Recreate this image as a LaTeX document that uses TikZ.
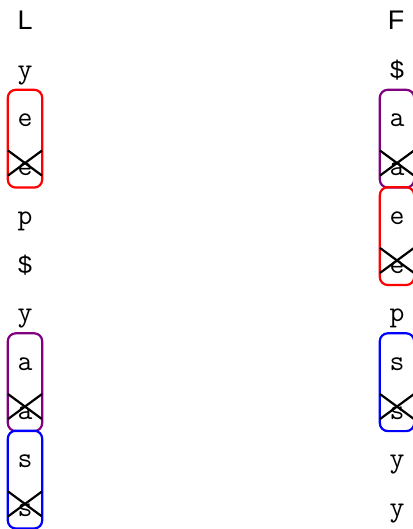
\documentclass[tikz,border=0pt]{standalone}
\usepackage{fontspec}
\setsansfont{Liberation Sans}
\usetikzlibrary{calc}

\definecolor{boxpurple}{RGB}{128,0,128}

\tikzset{
  cell/.style={minimum width=34bp, minimum height=48.7bp, inner sep=0pt,
    text height=37bp, text depth=11.7bp},
  monotok/.style={font=\fontsize{29}{29}\selectfont\ttfamily},
  sanstok/.style={font=\fontsize{25}{25}\selectfont\sffamily},
  head/.style={anchor=base, inner sep=0pt, font=\fontsize{27}{27}\selectfont\sffamily},
  pairbox/.style={line width=2.2bp, rounded corners=8bp},
  cross/.style={line width=2.2bp, black},
}

\begin{document}
\begin{tikzpicture}[x=1bp, y=1bp]
    \useasboundingbox (0,0) rectangle (412,-529);
    \node[head] (lhead) at (25,-30) {L};
    \node[head] (rhead) at (396,-30) {F};
    % left column
    \coordinate (s) at (25,-65.65);
    \foreach \token/\fnt [count=\i] in {y/monotok,e/monotok,e/monotok,p/monotok,\$/sanstok,
        y/monotok,a/monotok,a/monotok,s/monotok,s/monotok}{
      \node[cell, \fnt] (l\i) at (s) {\token};
      \coordinate (s) at ($(s) + (0,-48.7)$);
    }
    % right column
    \coordinate (s) at (397,-65.65);
    \foreach \token/\fnt [count=\i] in {\$/sanstok,a/monotok,a/monotok,e/monotok,e/monotok,
        p/monotok,s/monotok,s/monotok,y/monotok,y/monotok}{
      \node[cell, \fnt] (r\i) at (s) {\token};
      \coordinate (s) at ($(s) + (0,-48.7)$);
    }
    \draw[pairbox, red] (l2.north west) rectangle (l3.south east);
    \draw[pairbox, boxpurple] (l7.north west) rectangle (l8.south east);
    \draw[pairbox, blue] (l9.north west) rectangle (l10.south east);
    \draw[pairbox, boxpurple] (r2.north west) rectangle (r3.south east);
    \draw[pairbox, red] (r4.north west) rectangle (r5.south east);
    \draw[pairbox, blue] (r7.north west) rectangle (r8.south east);
    \foreach \c in {l3,l8,l10,r3,r5,r8}{
      \draw[cross] ($(\c)+(-17,12.5)$) -- ($(\c)+(17,-12.5)$);
      \draw[cross] ($(\c)+(-17,-12.5)$) -- ($(\c)+(17,12.5)$);
    }
\end{tikzpicture}
\end{document}
